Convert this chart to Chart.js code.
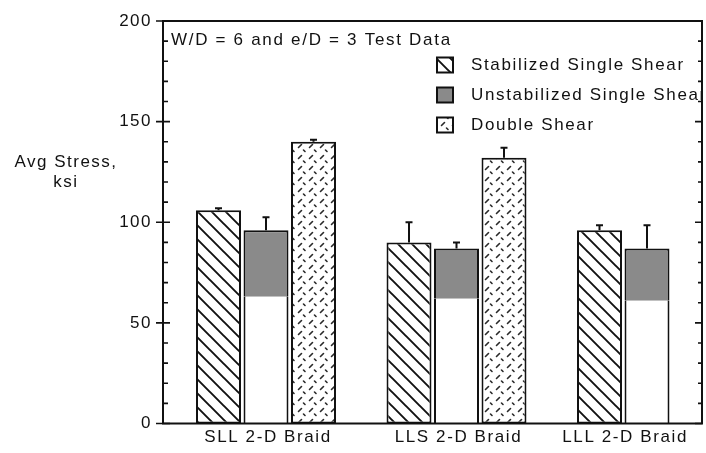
<!DOCTYPE html>
<html>
<head>
<meta charset="utf-8">
<script src="https://cdn.jsdelivr.net/npm/chart.js@4.4.1/dist/chart.umd.min.js"></script>
<style>
  html, body { margin: 0; padding: 0; background: #fff; }
  #wrap { width: 706px; height: 453px; }
</style>
</head>
<body>
<div id="wrap"><canvas id="chart"></canvas></div>
<script>
const categories  = ["SLL 2-D Braid", "LLS 2-D Braid", "LLL 2-D Braid"]
const seriesNames = ["Stabilized Single Shear", "Unstabilized Single Shear", "Double Shear"]

const stabilized      = [106, 90, 96]
const unstabilized    = [96, 87, 87]
const unstabilizedLow = [63, 62, 61]      // unshaded lower part of the unstabilized bars
const doubleShear     = [140, 132, null]

const stabilizedErr   = [1, 10, 2.5]
const unstabilizedErr = [6.5, 3, 11.5]
const doubleShearErr  = [1, 5, null]

const noteText = "W/D = 6 and e/D = 3 Test Data"
const yTitle   = ["Avg Stress,", "ksi"]

const FONT  = "'Liberation Sans', Arial, Helvetica, sans-serif"
const INK   = "#111"
const GRAY  = "#8a8a8a"

function hatchPattern() {
  const s = 14
  const c = document.createElement("canvas")
  c.width = c.height = s
  const g = c.getContext("2d")
  g.fillStyle = "#fff"
  g.fillRect(0, 0, s, s)
  g.strokeStyle = INK
  g.lineWidth = 1.9
  g.beginPath()
  for (const k of [-1, 0, 1]) {
    g.moveTo(k * s - 1, -1)
    g.lineTo(k * s + s + 1, s + 1)
  }
  g.stroke()
  return g.createPattern(c, "repeat")
}

function dashPattern() {
  const s = 11
  const c = document.createElement("canvas")
  c.width = c.height = s
  const g = c.getContext("2d")
  g.fillStyle = "#fff"
  g.fillRect(0, 0, s, s)
  g.strokeStyle = "#2a2a2a"
  g.lineWidth = 1.6
  g.lineCap = "round"
  g.beginPath()
  g.moveTo(1.5, 4.5); g.lineTo(4.5, 1.5)
  g.moveTo(6.5, 7); g.lineTo(8, 8.5)
  g.stroke()
  return g.createPattern(c, "repeat")
}

const hatch = hatchPattern()
const dots  = dashPattern()

const toPoints = arr => arr.map((v, i) => ({ x: i, y: v }))

const errorSets = [
  { ds: 0, values: stabilized,   err: stabilizedErr },
  { ds: 2, values: unstabilized, err: unstabilizedErr },
  { ds: 3, values: doubleShear,  err: doubleShearErr },
]

const legendItems = [
  { text: seriesNames[0], fill: hatch },
  { text: seriesNames[1], fill: GRAY },
  { text: seriesNames[2], fill: dots },
]

// canvas letter spacing resets whenever the canvas is resized
const spacing = {
  id: "spacing",
  beforeLayout(chart) { chart.ctx.letterSpacing = "1.5px" },
  beforeDraw(chart)   { chart.ctx.letterSpacing = "1.5px" },
}

const decorations = {
  id: "decorations",
  afterDatasetsDraw(chart) {
    const { ctx, chartArea: a, scales: { x, y } } = chart
    ctx.save()
    ctx.strokeStyle = INK
    ctx.fillStyle = INK

    // error bars (upper side only)
    ctx.lineWidth = 2
    errorSets.forEach(({ ds, values, err }) => {
      const meta = chart.getDatasetMeta(ds)
      values.forEach((v, i) => {
        if (v == null || err[i] == null) return
        const bar = meta.data[i]
        const top = y.getPixelForValue(v)
        const tip = y.getPixelForValue(v + err[i])
        ctx.beginPath()
        ctx.moveTo(bar.x, top)
        ctx.lineTo(bar.x, tip)
        ctx.moveTo(bar.x - 3.5, tip)
        ctx.lineTo(bar.x + 3.5, tip)
        ctx.stroke()
      })
    })

    // frame
    ctx.lineWidth = 2
    ctx.strokeRect(a.left, a.top, a.right - a.left, a.bottom - a.top)

    // tick marks on left and right sides
    ctx.lineWidth = 1.6
    for (let v = 0; v <= 200; v += 10) {
      const py = y.getPixelForValue(v)
      const major = v % 50 === 0
      ctx.beginPath()
      ctx.moveTo(major ? a.left - 7 : a.left, py)
      ctx.lineTo(a.left + (major ? 7 : 5), py)
      ctx.moveTo(a.right - (major ? 7 : 4), py)
      ctx.lineTo(a.right, py)
      ctx.stroke()
    }

    ctx.font = `17px ${FONT}`
    ctx.textBaseline = "middle"

    // category labels, kept inside the frame
    ctx.letterSpacing = "1.6px"
    ctx.textAlign = "center"
    categories.forEach((c, i) => {
      const w = ctx.measureText(c).width
      const cx = Math.min(x.getPixelForValue(i) + 2, a.right - 14 - w / 2)
      ctx.fillText(c, cx, a.bottom + 14)
    })

    // axis title
    ctx.letterSpacing = "1.5px"
    ctx.fillText(yTitle[0], 66, 162)
    ctx.fillText(yTitle[1], 66, 182)

    // note
    ctx.textAlign = "left"
    ctx.letterSpacing = "1.7px"
    ctx.fillText(noteText, a.left + 8, 40)

    // legend, clipped by the frame
    ctx.save()
    ctx.beginPath()
    ctx.rect(a.left, a.top, a.right - a.left - 1, a.bottom - a.top)
    ctx.clip()
    ctx.letterSpacing = "1.65px"
    legendItems.forEach((item, k) => {
      const cy = 65 + k * 30
      ctx.fillStyle = item.fill
      ctx.fillRect(437, cy - 7.5, 16, 15)
      ctx.lineWidth = 2
      ctx.strokeRect(437, cy - 7.5, 16, 15)
      ctx.fillStyle = INK
      ctx.fillText(item.text, 471, cy)
    })
    ctx.restore()
    ctx.restore()
  },
}

new Chart(document.getElementById("chart"), {
  type: "bar",
  data: {
    datasets: [
      {
        label: seriesNames[0],
        data: toPoints(stabilized),
        stack: "stabilized",
        backgroundColor: hatch,
        borderColor: INK,
        borderWidth: 2,
        borderSkipped: false,
      },
      {
        label: seriesNames[1],
        data: toPoints(unstabilizedLow),
        stack: "unstabilized",
        backgroundColor: "#fff",
        borderColor: INK,
        borderWidth: { left: 2, right: 2, top: 0, bottom: 0 },
        borderSkipped: false,
      },
      {
        label: seriesNames[1],
        data: unstabilized.map((v, i) => ({ x: i, y: v - unstabilizedLow[i] })),
        stack: "unstabilized",
        backgroundColor: GRAY,
        borderColor: INK,
        borderWidth: { left: 2, right: 2, top: 2, bottom: 0 },
        borderSkipped: false,
      },
      {
        label: seriesNames[2],
        data: toPoints(doubleShear),
        stack: "double",
        backgroundColor: dots,
        borderColor: INK,
        borderWidth: 2,
        borderSkipped: false,
      },
    ],
  },
  options: {
    responsive: true,
    maintainAspectRatio: false,
    animation: false,
    categoryPercentage: 0.748,
    barPercentage: 0.947,
    layout: { padding: { top: 21, right: 4, left: 0, bottom: 0 } },
    plugins: {
      legend: { display: false },
      tooltip: { enabled: false },
    },
    scales: {
      x: {
        type: "linear",
        offset: false,
        min: -0.5407,
        max: 2.2887,
        afterBuildTicks: s => { s.ticks = categories.map((_, i) => ({ value: i })) },
        afterFit: s => { s.height = 29.5 },
        ticks: { display: false },
        grid: { display: false, offset: false },
        border: { display: false },
      },
      y: {
        min: 0,
        max: 200,
        afterFit: s => { s.width = 163 },
        ticks: { stepSize: 50, padding: 3, color: INK, font: { size: 17, family: FONT } },
        grid: { display: false, drawTicks: true, tickLength: 8 },
        border: { display: false },
      },
    },
  },
  plugins: [spacing, decorations],
})
</script>
</body>
</html>
